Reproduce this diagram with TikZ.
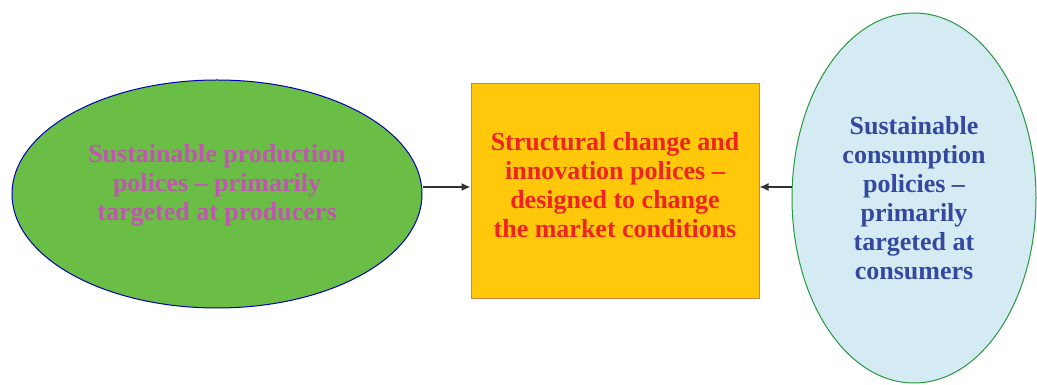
\documentclass[tikz,border=0pt]{standalone}
\usepackage{fontspec}
\setmainfont{Liberation Serif}
\usepackage{xcolor}
\usetikzlibrary{shapes.geometric,arrows.meta}
\definecolor{prodgreen}{RGB}{106,189,69}
\definecolor{prodtext}{RGB}{192,86,176}
\definecolor{boxyellow}{RGB}{255,200,10}
\definecolor{boxedge}{RGB}{205,135,60}
\definecolor{boxtext}{RGB}{240,35,35}
\definecolor{conblue}{RGB}{212,235,244}
\definecolor{context}{RGB}{52,72,160}
\definecolor{conedge}{RGB}{40,150,60}

\begin{document}
\begin{tikzpicture}[x=1pt,y=1pt]
\tikzstyle{policy}=[inner sep=0pt, line width=1pt]
\tikzstyle{label}=[font=\fontsize{26}{29}\selectfont\bfseries, align=center, inner sep=0pt]
\tikzstyle{link}=[draw=black!80, line width=1.4pt, -{Latex[length=9pt,width=8pt]}]
\useasboundingbox (0,0) rectangle (1037,385);
% shapes
\node[policy, ellipse, draw=blue!70!black, fill=prodgreen,
	minimum width=410pt, minimum height=228pt] (prod) at (217,191) {};
\node[policy, rectangle, draw=boxedge, fill=boxyellow,
	minimum width=288pt, minimum height=215pt] (struct) at (615,194) {};
\node[policy, ellipse, draw=conedge, fill=conblue,
	minimum width=244pt, minimum height=370pt] (cons) at (914,187) {};
% texts
\node[label, text=prodtext] (prodtxt) at ([yshift=9pt]prod.center)
	{Sustainable production\\polices -- primarily\\targeted at producers};
\node[label, text=boxtext] (structtxt) at ([yshift=6pt]struct.center)
	{Structural change and\\innovation polices --\\designed to change\\the market conditions};
\node[label, text=context] (constxt) at (cons.center)
	{Sustainable\\consumption\\policies --\\primarily\\targeted at\\consumers};
% arrows
\coordinate (row) at (0,198);
\draw[link] (prod.east |- row) -- (struct.west |- row);
\draw[link] (cons.west |- row) -- (struct.east |- row);
\end{tikzpicture}
\end{document}
